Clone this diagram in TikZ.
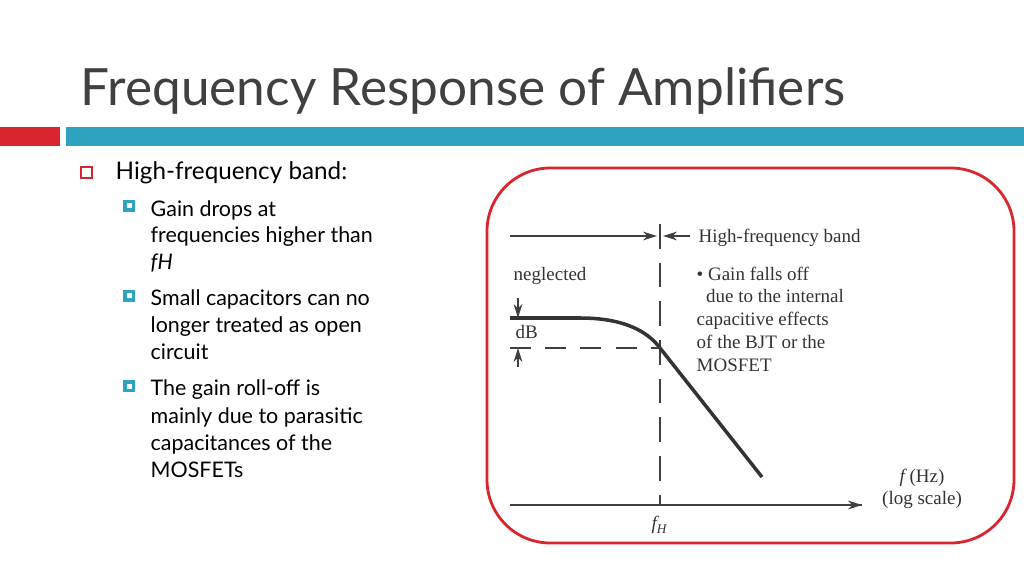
\documentclass[tikz,border=0pt]{standalone}
\usepackage{fontspec}
\setmainfont{Lato}
\newfontfamily\graphfont{Liberation Serif}
\usetikzlibrary{arrows.meta, positioning}
\definecolor{barred}{HTML}{D9252E}
\definecolor{barblue}{HTML}{2EA3BF}
\definecolor{titlegray}{HTML}{404040}
\begin{document}
\begin{tikzpicture}[x=0.01cm, y=-0.01cm,
  sub/.style={anchor=base west, inner sep=0pt, font=\fontsize{6.1}{7}\selectfont, text=black},
  lbl/.style={anchor=base west, inner sep=0pt, font=\graphfont\fontsize{5.4}{6.5}\selectfont, text=black!80},
  marker/.style={draw=barblue, fill=barblue, line width=0pt},
  axis/.style={black!75, line width=0.6pt},
  tip/.style={-{Stealth[length=4pt, width=2.5pt]}, black!75, line width=0.5pt}
]
\useasboundingbox (0,0) rectangle (1024,576);

% title and bars
\node[anchor=base west, inner sep=0pt, text=titlegray, font=\fontsize{14.6}{16}\selectfont] (title) at (80,106) {Frequency Response of Amplifiers};
\fill[barred] (0,127) rectangle (60,146);
\fill[barblue] (66,127) rectangle (1024,146);

% bullet list
\draw[barred, line width=0.4pt] (81,167) rectangle (92,178);
\node[anchor=base west, inner sep=0pt, font=\fontsize{6.9}{8}\selectfont] (head) at (115,180) {High-frequency band:};
\foreach \y in {208,298,388}{
  \fill[barblue] (123,\y-8) rectangle (135,\y+4);
  \fill[white] (126.5,\y-4.5) rectangle (131.5,\y+0.5);
}
\node[sub] (g1) at (150,216) {Gain drops at};
\node[sub] (g2) at (150,243) {frequencies higher than};
\node[sub] (g3) at (150,270) {\itshape fH};
\node[sub] (s1) at (150,306) {Small capacitors can no};
\node[sub] (s2) at (150,333) {longer treated as open};
\node[sub] (s3) at (150,360) {circuit};
\node[sub] (r1) at (150,396) {The gain roll-off is};
\node[sub] (r2) at (150,423) {mainly due to parasitic};
\node[sub] (r3) at (150,450) {capacitances of the};
\node[sub] (r4) at (150,477) {MOSFETs};

% frame
\draw[barred, line width=0.8pt, rounded corners=18pt] (487,168) rectangle (1014,543);

% graph
\coordinate (origin) at (510,505);
\coordinate (xend) at (862,505);
\coordinate (fh) at (660,505);
\coordinate (fhtop) at (660,224);
\draw[axis] (origin) -- (xend);
\draw[tip] (850,505) -- (xend);
\draw[axis, dashed, dash pattern=on 7pt off 4pt] (fhtop) -- (fh);
\coordinate (bl) at (510,236);
\coordinate (br) at (657,236);
\coordinate (hl) at (663,236);
\coordinate (hr) at (690,236);
\draw[tip] (bl) -- (br);
\draw[tip] (hr) -- (hl);
\node[lbl] (hfb) at (698,243) {High-frequency band};
\node[lbl] (negl) at (513,281) {neglected};
\node[lbl] (db) at (515,338) {dB};
% response curve
\coordinate (flat) at (510,318);
\coordinate (knee) at (660,348);
\coordinate (cend) at (762,477);
\draw[black!80, line width=1pt] (flat) -- (580,318) .. controls (625,318) and (648,332) .. (knee) -- (cend);
\draw[axis, dashed, dash pattern=on 6pt off 4pt] (510,348) -- (knee);
\coordinate (dtop) at (518,298);
\coordinate (dbot) at (518,367);
\draw[tip] (dtop) -- (518,318);
\draw[tip] (dbot) -- (518,348);
\node[lbl, align=left, anchor=north west] (note) at (696,266) {\textbullet\ Gain falls off\\\ \ due to the internal\\capacitive effects\\of the BJT or the\\MOSFET};
\node[lbl, anchor=north, align=center] (freq) at (922,468) {\itshape f\upshape\ (Hz)\\(log scale)};
\node[lbl, anchor=north] (fhl) at (fh) [yshift=-3pt] {\itshape f\textsubscript{H}};
\end{tikzpicture}
\end{document}
